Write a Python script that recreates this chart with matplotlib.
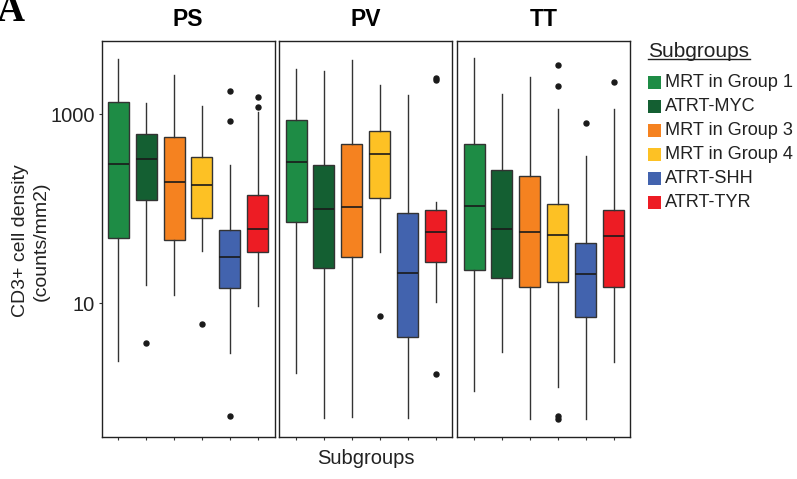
import numpy as np
import matplotlib
matplotlib.use('Agg')
import matplotlib.pyplot as plt
from matplotlib.patches import Rectangle
from matplotlib.lines import Line2D

plt.rcParams['font.family'] = ['Liberation Sans', 'DejaVu Sans']

subgroups = ['MRT in Group 1', 'ATRT-MYC', 'MRT in Group 3',
             'MRT in Group 4', 'ATRT-SHH', 'ATRT-TYR']
colors = ['#1e8c45', '#145f32', '#f58220', '#fdc124', '#4263ae', '#ed1c24']
regions = ['PS', 'PV', 'TT']

# summary statistics per region, one value per subgroup
ps_whislo = [2.47, 15.7, 12.3, 36.2, 3.01, 9.4]
ps_q1 = [49, 124, 47.3, 81, 14.5, 35.3]
ps_med = [297, 338, 194, 179, 31.3, 61]
ps_q3 = [1356, 617, 574, 357, 60, 140]
ps_whishi = [3838, 1313, 2600, 1230, 294, 1063]
ps_fliers = [[], [3.8], [], [6.07], [1758, 853, 0.65], [1521, 1210]]

pv_whislo = [1.82, 0.61, 0.63, 35.3, 0.61, 10.3]
pv_q1 = [72.3, 23.9, 30.8, 130, 4.39, 27.7]
pv_med = [317, 99.3, 106, 379, 20.9, 56.6]
pv_q3 = [874, 292, 491, 668, 91.4, 97.5]
pv_whishi = [3007, 2910, 3800, 2066, 1622, 118]
pv_fliers = [[], [], [], [7.43], [], [2415, 2300, 1.81]]

tt_whislo = [1.19, 3.09, 0.60, 1.32, 0.60, 2.39]
tt_q1 = [22.6, 18.7, 15.1, 16.7, 7.24, 14.8]
tt_med = [107, 61, 57.1, 53.1, 20.4, 51.4]
tt_q3 = [491, 256, 223, 113, 43.4, 97.5]
tt_whishi = [3935, 1637, 2478, 1152, 364, 1152]
tt_fliers = [[], [], [], [3366, 2018, 0.645, 0.60], [819], [2223]]

region_stats = {
    'PS': (ps_whislo, ps_q1, ps_med, ps_q3, ps_whishi, ps_fliers),
    'PV': (pv_whislo, pv_q1, pv_med, pv_q3, pv_whishi, pv_fliers),
    'TT': (tt_whislo, tt_q1, tt_med, tt_q3, tt_whishi, tt_fliers),
}

W, H = 797, 479
fig = plt.figure(figsize=(W / 100, H / 100), dpi=100)

panel_left = [101.5, 279.3, 457.3]
panel_w = 173.0
panel_top, panel_bot = 40.7, 437.0
edge = '#333333'

for i, reg in enumerate(regions):
    ax = fig.add_axes([panel_left[i] / W, 1 - panel_bot / H,
                       panel_w / W, (panel_bot - panel_top) / H])
    whislo, q1, med, q3, whishi, fliers = region_stats[reg]
    stats = [dict(whislo=a, q1=b, med=c, q3=d, whishi=e, fliers=np.array(f))
             for a, b, c, d, e, f in zip(whislo, q1, med, q3, whishi, fliers)]
    bp = ax.bxp(stats, positions=range(1, 7), widths=0.75, patch_artist=True,
                showcaps=False,
                boxprops=dict(edgecolor=edge, linewidth=1.0),
                whiskerprops=dict(color=edge, linewidth=1.0),
                medianprops=dict(color='#1a1a1a', linewidth=1.2),
                flierprops=dict(marker='o', markerfacecolor='#1a1a1a',
                                markeredgecolor='#1a1a1a', markersize=3.6))
    for box, c in zip(bp['boxes'], colors):
        box.set_facecolor(c)
    ax.set_yscale('log')
    ax.set_ylim(10 ** -0.413, 10 ** 3.781)
    ax.set_xlim(0.4, 6.6)
    ax.set_xticks(range(1, 7))
    ax.set_xticklabels([])
    ax.tick_params(axis='x', length=2.2, width=0.8, color=edge)
    ax.yaxis.set_minor_locator(matplotlib.ticker.NullLocator())
    if i == 0:
        ax.set_yticks([10, 1000])
        ax.set_yticklabels(['10', '1000'])
        ax.tick_params(axis='y', length=2.2, width=0.8, color=edge,
                       labelsize=14.5, pad=2.5, labelcolor='#222222')
    else:
        ax.set_yticks([])
    for s in ax.spines.values():
        s.set_linewidth(1.0)
        s.set_color('#222222')
    ax.set_title(reg, fontsize=16.5, fontweight='bold', pad=10.5)

fig.text(31 / W, 1 - 241 / H, 'CD3+ cell density\n(counts/mm2)', rotation=90,
         ha='center', va='center', multialignment='center', fontsize=14,
         linespacing=1.3, color='#222222')
fig.text(366 / W, 1 - 458 / H, 'Subgroups', ha='center', va='center',
         fontsize=14.5, color='#222222')
fig.text(-3 / W, 1 - 21 / H, 'A', ha='left', va='baseline', fontsize=28,
         fontweight='bold', family='Liberation Serif')

# legend drawn by hand so the title can be underlined
fig.text(648 / W, 1 - 51.7 / H, 'Subgroups', ha='left', va='center',
         fontsize=15, color='#222222')
fig.add_artist(Line2D([648 / W, 750 / W], [1 - 58.7 / H, 1 - 58.7 / H],
                      color='#222222', linewidth=1.0))
for k, (name, c) in enumerate(zip(subgroups, colors)):
    yc = 82.7 + 23.9 * k
    fig.add_artist(Rectangle((647.5 / W, 1 - (yc + 6.5) / H), 13 / W, 13 / H,
                             facecolor=c, edgecolor='none'))
    fig.text(665 / W, 1 - yc / H, name, ha='left', va='center',
             fontsize=13.1, color='#222222')

fig.savefig('out.png', dpi=100)
